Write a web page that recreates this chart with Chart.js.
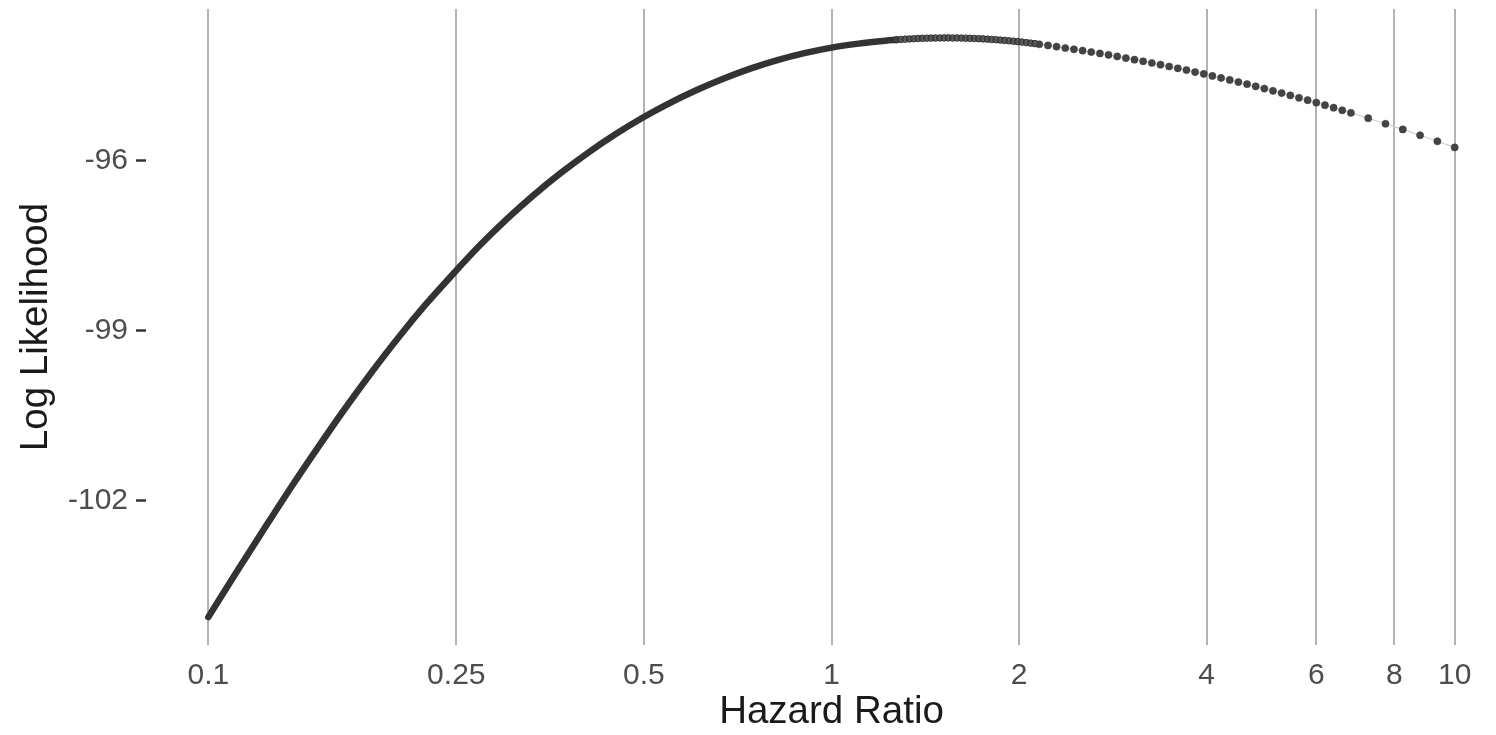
<!DOCTYPE html>
<html>
<head>
<meta charset="utf-8">
<script src="https://cdn.jsdelivr.net/npm/chart.js@4.4.1/dist/chart.umd.min.js"></script>
<style>
  html, body { margin: 0; padding: 0; background: #fff; overflow: hidden; }
  #wrap { width: 1496px; height: 735px; overflow: hidden; }
</style>
</head>
<body>
<div id="wrap"><canvas id="llChart" width="1522" height="735"></canvas></div>
<script>
// profile log likelihood, hazard ratio on a log axis
const denseHR = [0.1, 0.1108, 0.1225, 0.1353, 0.1496, 0.1653, 0.1827, 0.2019, 0.2231, 0.2466,
    0.2725, 0.3012, 0.3329, 0.3679, 0.4066, 0.4493, 0.4966, 0.5488, 0.6065, 0.6703,
    0.7408, 0.8187, 0.9048, 1, 1.1052, 1.2214, 1.2713];
const denseLL = [-104.065, -103.282, -102.530, -101.796, -101.083, -100.396, -99.741, -99.122, -98.544, -98.009,
    -97.499, -97.031, -96.604, -96.215, -95.860, -95.537, -95.244, -94.985, -94.754, -94.550,
    -94.372, -94.222, -94.099, -94.000, -93.930, -93.878, -93.861];

const midHR = [1.271, 1.292, 1.313, 1.334, 1.355, 1.377, 1.399, 1.422, 1.445, 1.468, 1.492,
    1.516, 1.540, 1.565, 1.590, 1.616, 1.642, 1.668, 1.695, 1.723, 1.750, 1.779,
    1.807, 1.837, 1.866, 1.896, 1.927, 1.958, 1.989, 2.021, 2.054, 2.087, 2.121];
const midLL = [-93.861, -93.856, -93.851, -93.847, -93.843, -93.839, -93.836, -93.834, -93.832, -93.831, -93.830,
    -93.829, -93.829, -93.830, -93.830, -93.832, -93.834, -93.836, -93.839, -93.843, -93.846, -93.851,
    -93.856, -93.861, -93.867, -93.873, -93.880, -93.887, -93.895, -93.903, -93.912, -93.921, -93.930];

const beadHR = [2.155, 2.225, 2.297, 2.372, 2.449, 2.529, 2.611, 2.696, 2.783, 2.874, 2.967,
    3.063, 3.163, 3.266, 3.372, 3.482, 3.595, 3.712, 3.832, 3.957, 4.085, 4.218,
    4.355, 4.497, 4.643, 4.794, 4.949, 5.110, 5.276, 5.448, 5.625, 5.808, 5.997,
    6.192, 6.393, 6.601, 6.815, 7.265, 7.744, 8.255, 8.800, 9.381, 10];
const beadLL = [-93.941, -93.962, -93.984, -94.007, -94.030, -94.054, -94.079, -94.104, -94.130, -94.157, -94.185,
    -94.213, -94.242, -94.272, -94.302, -94.334, -94.366, -94.398, -94.432, -94.466, -94.500, -94.536,
    -94.572, -94.609, -94.647, -94.685, -94.724, -94.764, -94.804, -94.845, -94.887, -94.930, -94.973,
    -95.017, -95.062, -95.108, -95.154, -95.248, -95.346, -95.446, -95.549, -95.655, -95.764];

const xTickValues = [0.1, 0.25, 0.5, 1, 2, 4, 6, 8, 10];
const yTickValues = [-102, -99, -96];

const fontFamily = '"Liberation Sans", Arial, Helvetica, sans-serif';

function toPoints(xs, ys) {
    return xs.map((x, i) => ({ x: x, y: ys[i] }));
}

const ctx = document.getElementById('llChart').getContext('2d');
new Chart(ctx, {
    type: 'scatter',
    data: {
        datasets: [
            {
                label: 'beads',
                data: toPoints(beadHR, beadLL),
                showLine: true,
                borderColor: '#cfcfcf',
                borderWidth: 1.2,
                pointRadius: 3.6,
                pointBackgroundColor: '#444444',
                pointBorderColor: '#3a3a3a',
                pointBorderWidth: 0.5
            },
            {
                label: 'mid',
                data: toPoints(midHR, midLL),
                showLine: false,
                pointRadius: 3.3,
                pointBackgroundColor: 'rgba(70,70,70,0.85)',
                pointBorderColor: 'rgba(40,40,40,0.85)',
                pointBorderWidth: 1
            },
            {
                label: 'dense',
                data: toPoints(denseHR, denseLL),
                showLine: true,
                borderColor: '#333333',
                borderWidth: 6.5,
                borderCapStyle: 'round',
                cubicInterpolationMode: 'monotone',
                pointRadius: 0
            }
        ]
    },
    options: {
        responsive: false,
        animation: false,
        devicePixelRatio: 1,
        layout: { padding: { left: 0, right: 2, top: 9, bottom: 0 } },
        plugins: {
            legend: { display: false },
            tooltip: { enabled: false }
        },
        scales: {
            x: {
                type: 'logarithmic',
                min: 0.07943,
                max: 12.589,
                afterBuildTicks: s => { s.ticks = xTickValues.map(v => ({ value: v })); },
                afterFit: s => { s.height = 90; s.paddingLeft = 0; s.paddingRight = 0; },
                grid: { color: '#b3b3b3', lineWidth: 2, drawTicks: false },
                border: { display: false },
                ticks: {
                    autoSkip: false,
                    maxRotation: 0,
                    padding: 13,
                    color: '#4d4d4d',
                    font: { family: fontFamily, size: 30 },
                    callback: v => String(v)
                },
                title: {
                    display: true,
                    text: 'Hazard Ratio',
                    color: '#1a1a1a',
                    font: { family: fontFamily, size: 38.5 },
                    padding: { top: 0, bottom: 0 }
                }
            },
            y: {
                min: -104.558,
                max: -93.318,
                afterBuildTicks: s => { s.ticks = yTickValues.map(v => ({ value: v })); },
                afterFit: s => { s.width = 146; s.paddingTop = 0; s.paddingBottom = 0; },
                grid: {
                    drawOnChartArea: false,
                    drawTicks: true,
                    tickLength: 10,
                    tickColor: '#333333',
                    tickWidth: 2.5
                },
                border: { display: false },
                ticks: {
                    padding: 8,
                    color: '#4d4d4d',
                    font: { family: fontFamily, size: 30 },
                    callback: v => String(v)
                },
                title: {
                    display: true,
                    text: 'Log Likelihood',
                    color: '#1a1a1a',
                    font: { family: fontFamily, size: 38.5 },
                    padding: { top: 13, bottom: 0 }
                }
            }
        }
    }
});
</script>
</body>
</html>
